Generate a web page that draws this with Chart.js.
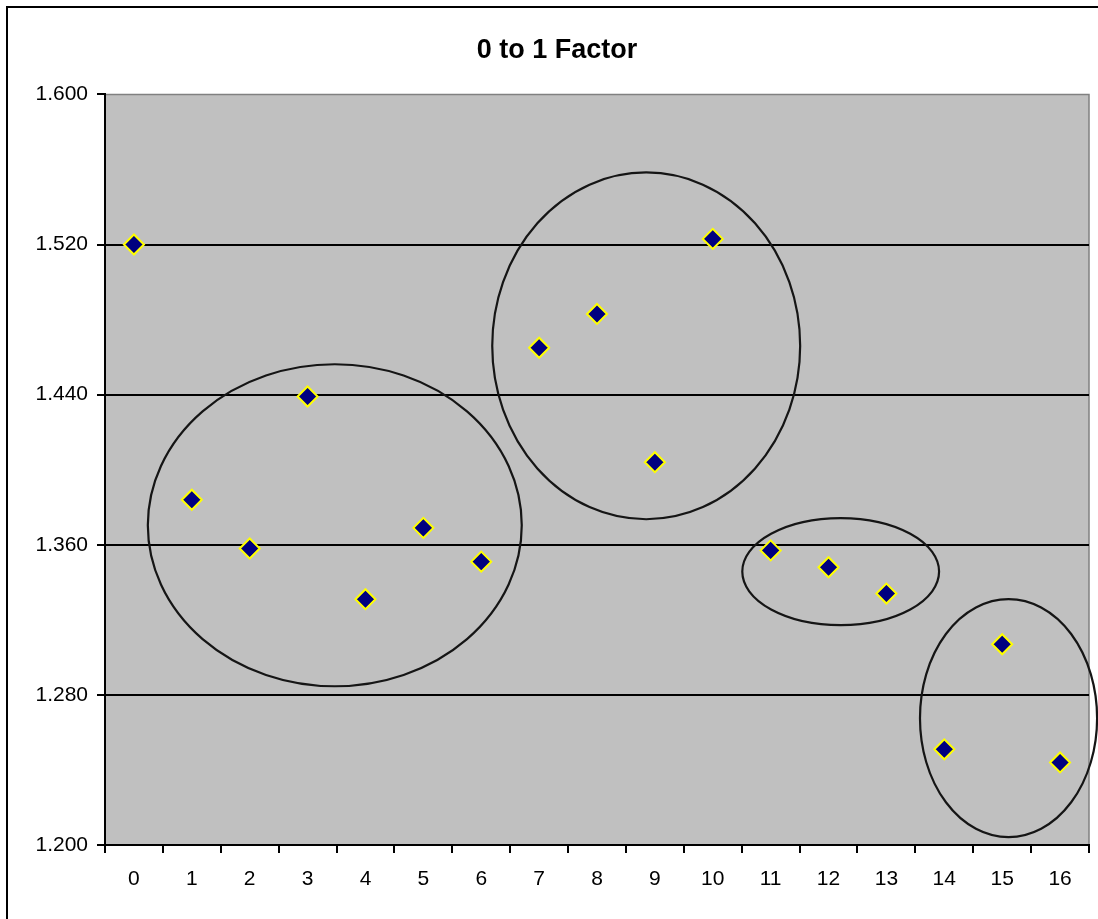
<!DOCTYPE html>
<html>
<head>
<meta charset="utf-8">
<title>0 to 1 Factor</title>
<script src="https://cdn.jsdelivr.net/npm/chart.js@4"></script>
<style>
  html, body { margin: 0; padding: 0; background: #fff; overflow: hidden; }
  #frame {
    position: absolute;
    left: 6px;
    top: 6px;
    width: 1098px;
    height: 930px;
    border: 2px solid #000;
  }
</style>
</head>
<body>
<div id="frame">
  <canvas id="factorChart" width="1098" height="930"></canvas>
</div>
<script>
// categories and values
const categories = ['0', '1', '2', '3', '4', '5', '6', '7', '8', '9', '10', '11', '12', '13', '14', '15', '16'];
const factorValues = [1.520, 1.384, 1.358, 1.439, 1.331, 1.369, 1.351, 1.465, 1.483, 1.404, 1.523, 1.357, 1.348, 1.334, 1.251, 1.307, 1.244];
const yTicks = [1.200, 1.280, 1.360, 1.440, 1.520, 1.600];

// groups circled by hand, in data units (category index, value)
const groupCentersX = [3.47, 8.85, 12.21, 15.11];
const groupCentersY = [1.3704, 1.466, 1.3457, 1.2676];
const groupRadiiX = [3.23, 2.66, 1.70, 1.53];
const groupRadiiY = [0.0858, 0.0924, 0.0285, 0.0634];

// gray plot area with the thin gray border on top / right
const plotArea = {
  id: 'plotArea',
  afterLayout(chart) {
    // title is centred on the whole frame, which runs past the plot on the right
    if (chart.titleBlock) chart.titleBlock.right += 17;
  },
  beforeDraw(chart) {
    const { ctx, chartArea: a } = chart;
    ctx.save();
    ctx.fillStyle = '#c0c0c0';
    ctx.fillRect(a.left, a.top, a.right - a.left, a.bottom - a.top);
    ctx.strokeStyle = '#808080';
    ctx.lineWidth = 1.5;
    ctx.beginPath();
    ctx.moveTo(a.left, a.top);
    ctx.lineTo(a.right, a.top);
    ctx.lineTo(a.right, a.bottom);
    ctx.stroke();
    ctx.restore();
  }
};

// the ellipses drawn round the groups
const groupRings = {
  id: 'groupRings',
  afterDatasetsDraw(chart) {
    const { ctx, scales } = chart;
    ctx.save();
    ctx.strokeStyle = '#151515';
    ctx.lineWidth = 2.2;
    groupCentersX.forEach((cx, i) => {
      const px = scales.x.getPixelForValue(cx);
      const py = scales.y.getPixelForValue(groupCentersY[i]);
      const rx = Math.abs(scales.x.getPixelForValue(cx + groupRadiiX[i]) - px);
      const ry = Math.abs(scales.y.getPixelForValue(groupCentersY[i] + groupRadiiY[i]) - py);
      ctx.beginPath();
      ctx.ellipse(px, py, rx, ry, 0, 0, Math.PI * 2);
      ctx.stroke();
    });
    ctx.restore();
  }
};

const ctx = document.getElementById('factorChart').getContext('2d');
new Chart(ctx, {
  type: 'line',
  data: {
    labels: categories,
    datasets: [{
      label: '0 to 1 Factor',
      data: factorValues,
      showLine: false,
      pointStyle: 'rectRot',
      pointRadius: 10,
      pointHoverRadius: 10,
      pointBackgroundColor: '#000080',
      pointBorderColor: '#ffff00',
      pointBorderWidth: 2
    }]
  },
  options: {
    responsive: false,
    animation: false,
    layout: { padding: { left: 0, right: 17, top: 0, bottom: 33 } },
    plugins: {
      legend: { display: false },
      tooltip: { enabled: false },
      title: {
        display: true,
        text: '0 to 1 Factor',
        color: '#000',
        font: { family: 'Liberation Sans, Arial, sans-serif', size: 27, weight: 'bold', lineHeight: 1.2 },
        padding: { top: 26, bottom: 28 }
      }
    },
    scales: {
      x: {
        type: 'category',
        offset: true,
        grid: {
          offset: true,
          drawOnChartArea: false,
          drawTicks: true,
          tickLength: 8,
          color: '#000',
          lineWidth: 2
        },
        border: { display: true, color: '#000', width: 2 },
        ticks: {
          color: '#000',
          padding: 14,
          maxRotation: 0,
          autoSkip: false,
          font: { family: 'Liberation Sans, Arial, sans-serif', size: 21 }
        },
        afterFit(scale) { scale.height = 60; }
      },
      y: {
        min: yTicks[0],
        max: yTicks[yTicks.length - 1],
        afterBuildTicks(scale) { scale.ticks = yTicks.map(v => ({ value: v })); },
        grid: {
          color: ctx => (ctx.tick && ctx.tick.value === yTicks[yTicks.length - 1]) ? 'rgba(0,0,0,0)' : '#000',
          lineWidth: 2,
          tickLength: 8,
          tickColor: '#000',
          tickWidth: 2
        },
        border: { display: true, color: '#000', width: 2 },
        ticks: {
          color: '#000',
          padding: 9,
          font: { family: 'Liberation Sans, Arial, sans-serif', size: 21 },
          callback: v => Number(v).toFixed(3)
        },
        afterFit(scale) { scale.width = 97; }
      }
    }
  },
  plugins: [plotArea, groupRings]
});
</script>
</body>
</html>
